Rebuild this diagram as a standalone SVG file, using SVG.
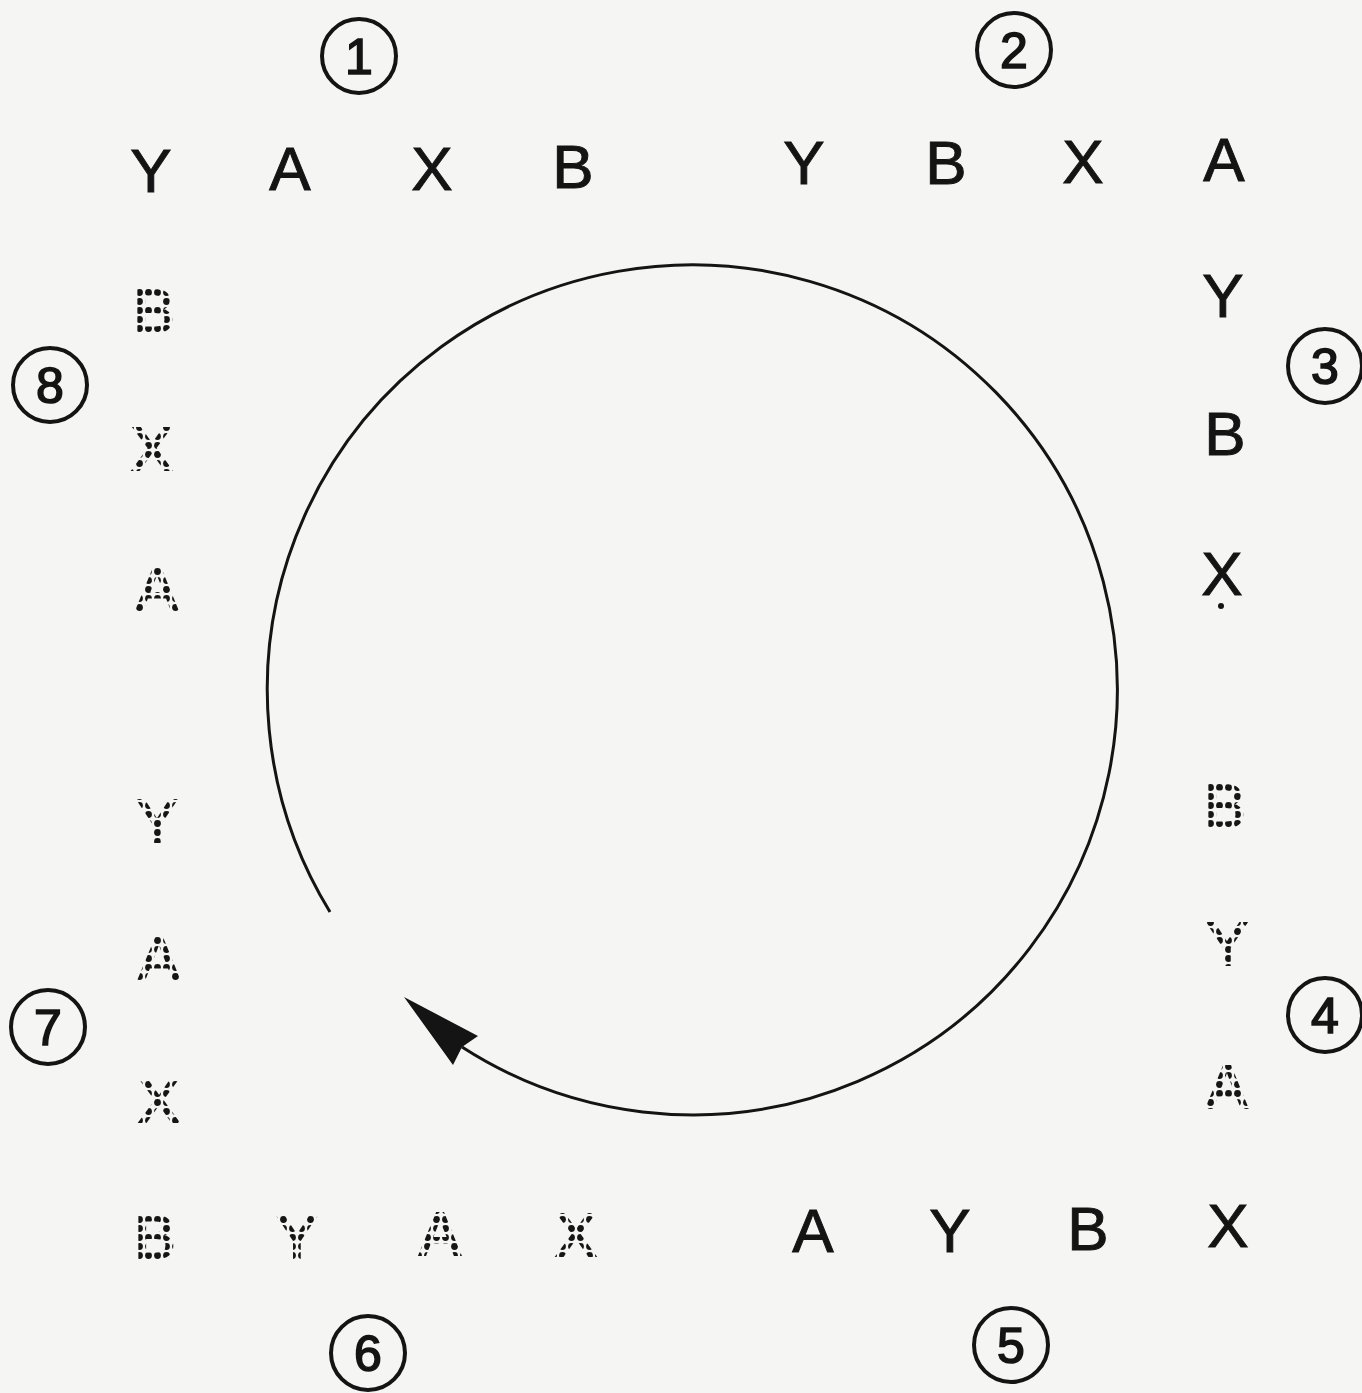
<svg xmlns="http://www.w3.org/2000/svg" width="1362" height="1393" viewBox="0 0 1362 1393">
<style>
.l{font-family:"Liberation Sans",Arial,sans-serif;font-size:62px;fill:#141414;stroke:#141414;stroke-width:1;text-anchor:middle}
.d{font-family:"Liberation Sans",Arial,sans-serif;font-size:62px;fill:#161616;stroke:#161616;stroke-width:2;text-anchor:middle}
.n{font-family:"Liberation Sans",Arial,sans-serif;font-size:50px;fill:#141414;stroke:#141414;stroke-width:1.6;text-anchor:middle}
.c{fill:none;stroke:#141414;stroke-width:4}
</style>
<defs>
<pattern id="dots" width="9" height="9" patternUnits="userSpaceOnUse">
<circle cx="4.5" cy="4.5" r="3.4" fill="#fff"/>
</pattern>
<mask id="dotmask" maskUnits="userSpaceOnUse" x="0" y="0" width="1362" height="1393">
<rect width="1362" height="1393" fill="url(#dots)"/>
</mask>
</defs>
<rect width="1362" height="1393" fill="#f5f5f4"/>
<g id="connectors">
<path d="M 462 1047 A 425 425 0 1 0 330 912" fill="none" stroke="#141414" stroke-width="3"/>
<path d="M 404 997 L 478 1036 L 462 1047 L 453 1065 Z" fill="#141414"/>
</g>
<g id="station-1"><circle class="c" cx="359" cy="56" r="37"/><text class="n" x="359" y="74">1</text></g>
<g id="station-2"><circle class="c" cx="1014" cy="50" r="37"/><text class="n" x="1014" y="68">2</text></g>
<g id="station-3"><circle class="c" cx="1325" cy="366" r="37"/><text class="n" x="1325" y="384">3</text></g>
<g id="station-4"><circle class="c" cx="1325" cy="1015" r="37"/><text class="n" x="1325" y="1033">4</text></g>
<g id="station-5"><circle class="c" cx="1011" cy="1345" r="37"/><text class="n" x="1011" y="1363">5</text></g>
<g id="station-6"><circle class="c" cx="368" cy="1353" r="37"/><text class="n" x="368" y="1371">6</text></g>
<g id="station-7"><circle class="c" cx="48" cy="1027" r="37"/><text class="n" x="48" y="1045">7</text></g>
<g id="station-8"><circle class="c" cx="50" cy="385" r="37"/><text class="n" x="50" y="403">8</text></g>
<g id="row-1">
<text class="l" x="151" y="192">Y</text>
<text class="l" x="290" y="190">A</text>
<text class="l" x="432" y="190">X</text>
<text class="l" x="573" y="188">B</text>
</g>
<g id="row-2">
<text class="l" x="804" y="184">Y</text>
<text class="l" x="946" y="184">B</text>
<text class="l" x="1083" y="183">X</text>
<text class="l" x="1224" y="181">A</text>
</g>
<g id="row-3">
<text class="l" x="1223" y="317">Y</text>
<text class="l" x="1225" y="455">B</text>
<text class="l" x="1222" y="595">X</text>
<circle cx="1221" cy="606" r="3" fill="#141414"/>
</g>
<g id="row-4" mask="url(#dotmask)">
<text class="d" x="1225" y="827">B</text>
<text class="d" x="1227" y="965">Y</text>
<text class="d" x="1227" y="1108">A</text>
</g>
<g id="row-5">
<text class="l" x="1228" y="1247">X</text>
<text class="l" x="813" y="1252">A</text>
<text class="l" x="950" y="1252">Y</text>
<text class="l" x="1088" y="1250">B</text>
</g>
<g id="row-6" mask="url(#dotmask)">
<text class="d" x="155" y="1258">B</text>
<text class="d" x="297" y="1258">Y</text>
<text class="d" x="440" y="1255">A</text>
<text class="d" x="576" y="1256">X</text>
</g>
<g id="row-7" mask="url(#dotmask)">
<text class="d" x="157" y="842">Y</text>
<text class="d" x="159" y="980">A</text>
<text class="d" x="159" y="1122">X</text>
</g>
<g id="row-8" mask="url(#dotmask)">
<text class="d" x="154" y="332">B</text>
<text class="d" x="152" y="470">X</text>
<text class="d" x="157" y="610">A</text>
</g>
</svg>
